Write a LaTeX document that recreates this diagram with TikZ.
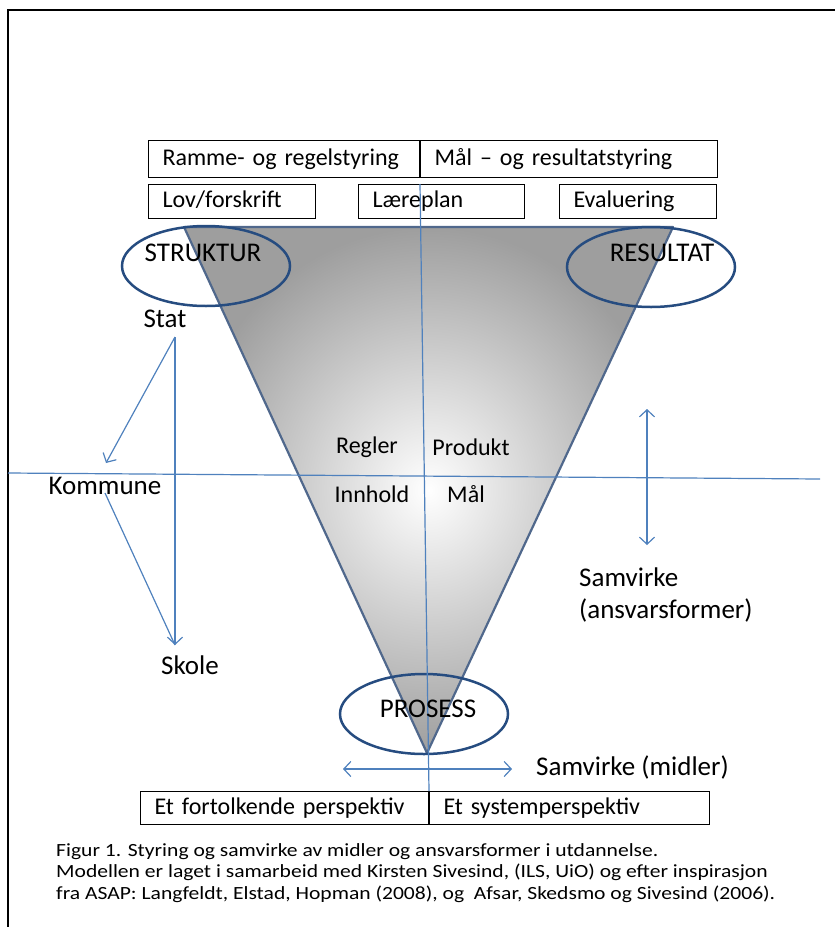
\documentclass[tikz,border=0pt]{standalone}
\usepackage{fontspec}
\setmainfont{Carlito}
\newfontfamily\captionfont[FakeStretch=1.16]{Carlito}
\usetikzlibrary{arrows.meta}
\definecolor{axisblue}{RGB}{79,129,189}
\definecolor{ringblue}{RGB}{38,76,128}
\definecolor{edgeblue}{RGB}{80,104,140}
\definecolor{shadegray}{RGB}{158,158,158}
\tikzset{
  cell/.style={draw=black, line width=1pt, inner xsep=14pt, inner ysep=0pt, align=left, text height=17pt, text depth=5pt, font=\fontsize{24}{28}\selectfont},
  freetext/.style={inner sep=0pt, font=\fontsize{27}{32}\selectfont},
  midtext/.style={inner sep=0pt, font=\fontsize{24}{28}\selectfont},
  ring/.style={draw=ringblue, line width=2.5pt},
  axis/.style={draw=axisblue, line width=1.2pt},
  barb/.style={axis, -{Straight Barb[length=7pt,width=15pt]}},
  twoway/.style={axis, {Straight Barb[length=7pt,width=15pt]}-{Straight Barb[length=7pt,width=15pt]}}
}

\begin{document}
\begin{tikzpicture}[x=1pt,y=-1pt]
			%%%%% START %%%%%
			\useasboundingbox (0,0) rectangle (835,927);
			\draw[line width=2.5pt] (8,927) -- (8,10) -- (835,10);
			
			% funnel
			\fill[inner color=white, outer color=shadegray] (184,227) -- (673,227) -- (427,753) -- cycle;
			\draw[edgeblue, line width=2.2pt, line join=round] (184,227) -- (673,227) -- (427,753) -- cycle;
			
			\draw[ring] (206,266) ellipse [x radius=84, y radius=40];
			\draw[ring] (651,267) ellipse [x radius=84, y radius=40];
			\draw[ring] (424,714) ellipse [x radius=84, y radius=40];
			
			% boxes on top
			\node[cell, anchor=north west, text width=243pt, minimum height=37pt] (ramme) at (148,140) {Ramme- og regelstyring};
			\node[cell, anchor=north west, text width=269pt, minimum height=37pt] (maal) at (ramme.north east) {Mål – og resultatstyring};
			\node[cell, anchor=north west, text width=139pt, minimum height=34pt] (lov) at (148,184) {Lov/forskrift};
			\node[cell, anchor=north west, text width=138pt, minimum height=34pt] (laereplan) at (358,184) {Læreplan};
			\node[cell, anchor=north west, text width=129pt, minimum height=34pt] (evaluering) at (559,184) {Evaluering};
			
			% boxes at the bottom
			\node[cell, anchor=north west, text width=260pt, minimum height=33pt] (fortolkende) at (140,791) {Et fortolkende perspektiv};
			\node[cell, anchor=north west, text width=252pt, minimum height=33pt] (system) at (fortolkende.north east) {Et systemperspektiv};
			
			% axes
			\coordinate (westend) at (8,473);
			\coordinate (eastend) at (820,479);
			\draw[axis] (westend) -- (eastend);
			\draw[axis] (laereplan.north -| 420,0) -- (system.north west);
			
			% texts
			\node[freetext] (struktur) at (203,253) {STRUKTUR};
			\node[freetext] (resultat) at (662,253) {RESULTAT};
			\node[freetext] (prosess) at (428,709) {PROSESS};
			\node[freetext] (stat) at (165,319) {Stat};
			\node[freetext] (kommune) at (105,486) {Kommune};
			\node[freetext] (skole) at (190,665) {Skole};
			\node[midtext] (regler) at (367,447) {Regler};
			\node[midtext] (produkt) at (471,447) {Produkt};
			\node[midtext] (innhold) at (372,494) {Innhold};
			\node[midtext] (maalinne) at (466,494) {Mål};
			\node[freetext, anchor=west, align=left] (ansvar) at (579,595) {Samvirke\\(ansvarsformer)};
			\node[freetext, anchor=west] (midler) at (536,767) {Samvirke (midler)};
			
			% arrows
			\coordinate (statfoot) at (175,337);
			\coordinate (kommunehead) at (106,463);
			\coordinate (kommunefoot) at (105,493);
			\coordinate (skolehead) at (175,645);
			\draw[barb] (statfoot) -- (kommunehead);
			\draw[barb] (statfoot) -- (skolehead);
			\draw[axis] (kommunefoot) -- (skolehead);
			
			\coordinate (ansvartop) at (647,409);
			\coordinate (ansvarbottom) at (647,545);
			\draw[twoway] (ansvartop) -- (ansvarbottom);
			\coordinate (midlerwest) at (343,769);
			\coordinate (midlereast) at (512,769);
			\draw[twoway] (midlerwest) -- (midlereast);
			
			% caption
			\node[anchor=north west, inner sep=0pt, align=left, font=\captionfont\fontsize{18.6}{21.5}\selectfont] (figur) at (56,843) {Figur 1. Styring og samvirke av midler og ansvarsformer i utdannelse.\\Modellen er laget i samarbeid med Kirsten Sivesind, (ILS, UiO) og efter inspirasjon\\fra ASAP: Langfeldt, Elstad, Hopman (2008), og\ \ Afsar, Skedsmo og Sivesind (2006).};
			%%%%% END %%%%%
		\end{tikzpicture}
\end{document}
